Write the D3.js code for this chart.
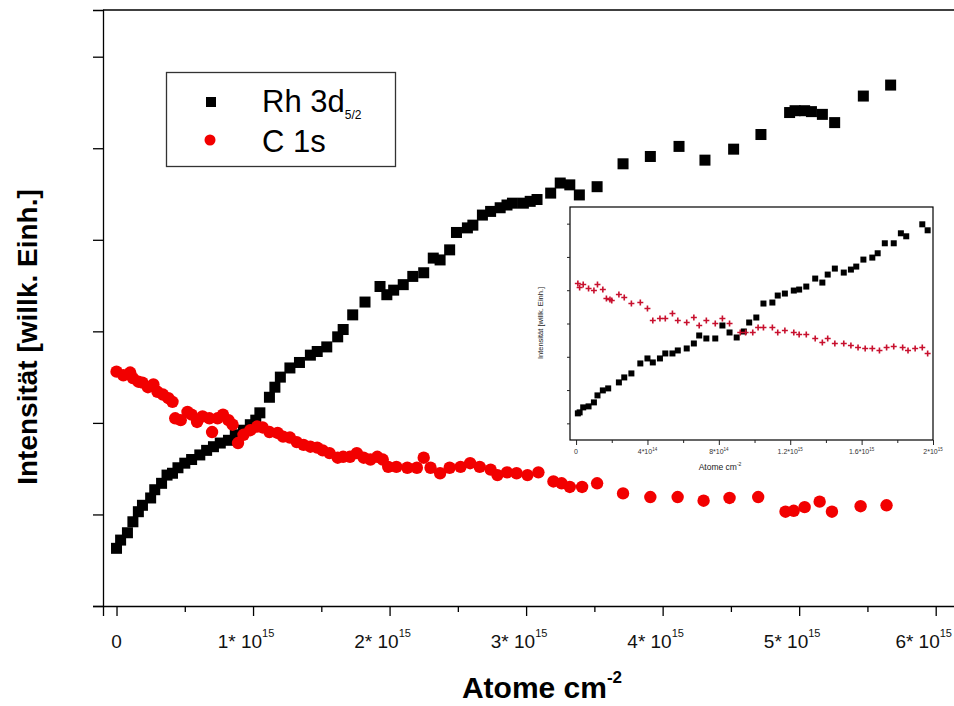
<!DOCTYPE html>
<html><head><meta charset="utf-8">
<script src="https://cdn.jsdelivr.net/npm/d3@7"></script>
<style>
html,body{margin:0;padding:0;background:#fff;}
svg{display:block;font-family:"Liberation Sans",Arial,sans-serif;}
</style></head>
<body><svg id="c" width="954" height="706"></svg>
<script>
// ---- Main chart data (x in 10^15 Atome cm^-2, y in arbitrary units) ----
const rhX = [0.00,0.03,0.08,0.12,0.16,0.19,0.25,0.28,0.33,0.37,0.41,0.45,0.50,0.55,0.61,0.66,0.71,0.76,0.82,0.87,0.93,0.98,1.02,1.05,1.12,1.16,1.20,1.27,1.34,1.42,1.47,1.54,1.62,1.66,1.73,1.82,1.93,1.98,2.03,2.10,2.17,2.25,2.32,2.37,2.44,2.49,2.57,2.61,2.68,2.74,2.81,2.86,2.90,2.98,3.03,3.08,3.18,3.25,3.32,3.39,3.52,3.71,3.91,4.12,4.31,4.52,4.72,4.93,4.97,5.04,5.09,5.17,5.26,5.47,5.67];
const rhY = [0.63,0.72,0.80,0.92,1.03,1.10,1.18,1.27,1.34,1.43,1.45,1.51,1.56,1.60,1.65,1.70,1.74,1.78,1.81,1.87,1.92,1.98,2.03,2.11,2.28,2.39,2.50,2.60,2.66,2.74,2.78,2.83,2.94,3.02,3.18,3.32,3.49,3.40,3.45,3.51,3.60,3.64,3.80,3.78,3.89,4.08,4.13,4.16,4.27,4.31,4.35,4.38,4.40,4.40,4.42,4.44,4.51,4.62,4.60,4.49,4.58,4.83,4.91,5.02,4.87,4.99,5.15,5.39,5.41,5.41,5.40,5.37,5.28,5.57,5.69];
const cX = [0.00,0.05,0.10,0.12,0.16,0.19,0.23,0.27,0.30,0.34,0.38,0.41,0.43,0.47,0.52,0.55,0.59,0.63,0.68,0.70,0.74,0.78,0.82,0.85,0.89,0.93,0.98,1.03,1.07,1.12,1.18,1.22,1.27,1.32,1.37,1.42,1.47,1.51,1.56,1.62,1.66,1.71,1.76,1.81,1.86,1.91,1.95,1.99,2.05,2.13,2.20,2.25,2.30,2.37,2.44,2.52,2.59,2.66,2.74,2.79,2.86,2.93,3.01,3.09,3.20,3.26,3.32,3.41,3.52,3.71,3.91,4.11,4.30,4.49,4.70,4.90,4.96,5.04,5.15,5.24,5.45,5.64];
const cY = [2.56,2.52,2.55,2.49,2.45,2.44,2.39,2.42,2.34,2.31,2.27,2.23,2.05,2.03,2.12,2.09,2.01,2.07,2.05,1.90,2.05,2.09,2.03,1.98,1.78,1.87,1.92,1.96,1.95,1.90,1.89,1.85,1.84,1.79,1.76,1.74,1.73,1.70,1.67,1.62,1.63,1.63,1.67,1.62,1.60,1.63,1.60,1.52,1.52,1.51,1.51,1.62,1.51,1.45,1.51,1.52,1.56,1.52,1.49,1.43,1.46,1.45,1.43,1.46,1.36,1.34,1.30,1.30,1.34,1.23,1.19,1.19,1.15,1.18,1.19,1.03,1.04,1.08,1.14,1.03,1.09,1.10];
const xMajor = [0,1,2,3,4,5,6];
const xMinor = [0.5,1.5,2.5,3.5,4.5,5.5];
const xTickLabels = ["0","1* 10","2* 10","3* 10","4* 10","5* 10","6* 10"];
const xTickExp = ["","15","15","15","15","15","15"];
const yTicks = [0,1,2,3,4,5,6];
const seriesNames = ["Rh 3d","C 1s"];

// ---- Inset data (x in 10^15 Atome cm^-2) ----
const iRhX = [0.01,0.02,0.04,0.07,0.10,0.12,0.15,0.18,0.24,0.27,0.31,0.36,0.40,0.43,0.47,0.50,0.54,0.57,0.62,0.66,0.69,0.73,0.78,0.82,0.86,0.90,0.94,0.97,1.01,1.05,1.10,1.13,1.17,1.22,1.25,1.29,1.34,1.38,1.41,1.45,1.50,1.54,1.57,1.61,1.66,1.69,1.73,1.78,1.82,1.85,1.94,1.97];
const iRhY = [0.30,0.33,0.48,0.51,0.63,0.84,0.99,1.05,1.23,1.38,1.50,1.80,1.95,1.83,1.95,2.10,2.10,2.19,2.25,2.40,2.64,2.55,2.55,2.94,2.73,2.58,2.76,3.03,3.18,3.60,3.63,3.84,3.90,3.99,4.02,4.11,4.35,4.23,4.47,4.65,4.53,4.62,4.71,4.92,4.98,5.11,5.41,5.41,5.71,5.62,5.98,5.80];
const iCX = [0.01,0.02,0.04,0.07,0.10,0.12,0.15,0.17,0.19,0.20,0.24,0.27,0.31,0.36,0.40,0.43,0.47,0.50,0.54,0.57,0.62,0.66,0.69,0.73,0.78,0.82,0.86,0.92,0.95,0.99,1.02,1.05,1.10,1.13,1.17,1.22,1.25,1.29,1.34,1.38,1.41,1.45,1.50,1.54,1.58,1.62,1.66,1.70,1.74,1.78,1.83,1.86,1.90,1.94,1.97];
const iCY = [4.20,4.08,4.17,4.05,3.99,4.17,4.02,3.75,3.72,3.69,3.87,3.78,3.60,3.63,3.45,3.09,3.15,3.15,3.30,3.09,3.03,3.18,2.94,3.09,3.00,3.15,3.00,2.73,2.73,2.73,2.88,2.88,2.88,2.73,2.79,2.73,2.67,2.67,2.55,2.43,2.55,2.40,2.40,2.34,2.28,2.25,2.25,2.19,2.28,2.31,2.28,2.19,2.25,2.28,2.10];
const iXMajor = [0,0.4,0.8,1.2,1.6,2.0];
const iXMinor = [0.2,0.6,1.0,1.4,1.8];
const iXLabels = ["0","4*10","8*10","1.2*10","1.6*10","2*10"];
const iXExp = ["","14","14","15","15","15"];
const iYTicks = [0,1,2,3,4,5,6];

const svg = d3.select("#c");
const RED = "#f20000";

// ---- main scales ----
const x = d3.scaleLinear().domain([-0.099, 6.2]).range([103, 963]);
const y = d3.scaleLinear().domain([0, 6.51]).range([606, 10]);

// frame top
svg.append("line").attr("x1",103).attr("x2",954).attr("y1",y(6.51)).attr("y2",y(6.51)).attr("stroke","#000").attr("stroke-width",1.3);

const gy = svg.append("g").attr("transform","translate(103,0)")
  .call(d3.axisLeft(y).tickValues(yTicks).tickSize(10).tickFormat(""));
const gx = svg.append("g").attr("transform","translate(0,606)")
  .call(d3.axisBottom(x).tickValues(xMajor).tickSize(10).tickFormat(""));
const gx2 = svg.append("g").attr("transform","translate(0,606)")
  .call(d3.axisBottom(x).tickValues(xMinor).tickSize(6).tickFormat(""));
[gy,gx,gx2].forEach(g=>{g.selectAll("path,line").attr("stroke","#000").attr("stroke-width",1.3);});
gx2.select(".domain").remove();

// x tick labels
const tl = svg.append("g").selectAll("text").data(xMajor).join("text")
  .attr("x",d=>x(d)).attr("y",648).attr("text-anchor","middle")
  .attr("font-size",19).attr("fill","#111")
  .attr("dx",(d,i)=>i===xMajor.length-1?-12:(xTickExp[i]?-7:0));
tl.append("tspan").text((d,i)=>xTickLabels[i]);
tl.append("tspan").attr("font-size",11).attr("dy",-11).text((d,i)=>xTickExp[i]);

// axis titles
svg.append("text").attr("transform","translate(37,337) rotate(-90)")
  .attr("text-anchor","middle").attr("font-size",28).attr("font-weight","bold")
  .text("Intensität [willk. Einh.]");
const xt = svg.append("text").attr("x",542).attr("y",698).attr("text-anchor","middle")
  .attr("font-size",30).attr("font-weight","bold");
xt.append("tspan").text("Atome cm");
xt.append("tspan").attr("font-size",17).attr("dy",-15).text("-2");

// data
const rhData = rhX.map((v,i)=>[v,rhY[i]]);
const cData = cX.map((v,i)=>[v,cY[i]]);
svg.append("g").selectAll("rect").data(rhData).join("rect")
  .attr("x",d=>x(d[0])-5.5).attr("y",d=>y(d[1])-5.5).attr("width",11).attr("height",11).attr("fill","#000");
svg.append("g").selectAll("circle").data(cData).join("circle")
  .attr("cx",d=>x(d[0])).attr("cy",d=>y(d[1])).attr("r",6.2).attr("fill",RED);

// legend
const lg = svg.append("g");
lg.append("rect").attr("x",166.5).attr("y",72.5).attr("width",229).attr("height",94).attr("fill","#fff").attr("stroke","#333").attr("stroke-width",1.3);
lg.append("rect").attr("x",206).attr("y",97).attr("width",10).attr("height",10).attr("fill","#000");
lg.append("circle").attr("cx",210).attr("cy",140).attr("r",5.5).attr("fill",RED);
const l1 = lg.append("text").attr("x",262).attr("y",112).attr("font-size",31);
l1.append("tspan").text(seriesNames[0]);
l1.append("tspan").attr("font-size",12).attr("dy",7).text("5/2");
lg.append("text").attr("x",262).attr("y",152).attr("font-size",31).text(seriesNames[1]);

// ---- inset ----
const ix = d3.scaleLinear().domain([-0.034, 2.0]).range([570, 933]);
const iy = d3.scaleLinear().domain([-0.5, 6.5]).range([440, 207]);
const ins = svg.append("g");
ins.append("rect").attr("x",ix(-0.034)).attr("y",iy(6.5)).attr("width",ix(2.0)-ix(-0.034)).attr("height",iy(-0.5)-iy(6.5))
  .attr("fill","#fff").attr("stroke","#000").attr("stroke-width",1.2);
const iga = ins.append("g").attr("transform","translate(570,0)")
  .call(d3.axisLeft(iy).tickValues(iYTicks).tickSize(3).tickFormat(""));
const igb = ins.append("g").attr("transform","translate(0,440)")
  .call(d3.axisBottom(ix).tickValues(iXMajor).tickSize(5).tickFormat(""));
const igc = ins.append("g").attr("transform","translate(0,440)")
  .call(d3.axisBottom(ix).tickValues(iXMinor).tickSize(3).tickFormat(""));
[iga,igb,igc].forEach(g=>{g.selectAll(".domain").remove();g.selectAll("line").attr("stroke","#222");});
const itl = ins.append("g").selectAll("text").data(iXMajor).join("text")
  .attr("x",d=>ix(d)).attr("y",454).attr("text-anchor","middle").attr("font-size",7).attr("fill","#333");
itl.append("tspan").text((d,i)=>iXLabels[i]);
itl.append("tspan").attr("font-size",4.5).attr("dy",-3).text((d,i)=>iXExp[i]);
const ixt = ins.append("text").attr("x",720).attr("y",470).attr("text-anchor","middle").attr("font-size",8.5).attr("fill","#222");
ixt.append("tspan").text("Atome cm");
ixt.append("tspan").attr("font-size",5).attr("dy",-4).text("-2");
ins.append("text").attr("transform","translate(543,323) rotate(-90)").attr("text-anchor","middle")
  .attr("font-size",7.5).attr("fill","#222").text("Intensität [willk. Einh.]");

const iRh = iRhX.map((v,i)=>[v,iRhY[i]]);
const iC = iCX.map((v,i)=>[v,iCY[i]]);
ins.append("g").selectAll("rect").data(iRh).join("rect")
  .attr("x",d=>ix(d[0])-3).attr("y",d=>iy(d[1])-3).attr("width",6).attr("height",6).attr("fill","#000");
ins.append("g").selectAll("path").data(iC).join("path")
  .attr("d",d=>{const cx=ix(d[0]),cy=iy(d[1]);return `M${cx-3},${cy}H${cx+3}M${cx},${cy-3}V${cy+3}`;})
  .attr("stroke","#c8102e").attr("stroke-width",1.6).attr("fill","none");
</script></body></html>
